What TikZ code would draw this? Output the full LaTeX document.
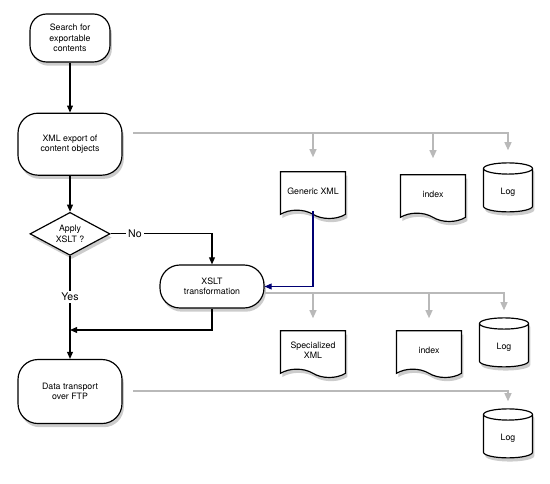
\documentclass[tikz,border=0pt]{standalone}
\usepackage{fontspec}
\setmainfont{TeX Gyre Heros}
\usetikzlibrary{arrows.meta, positioning, shapes.geometric, shapes.symbols, shadows}

\begin{document}
\begin{tikzpicture}[
    x=0.03cm, y=-0.03cm,
    >={Triangle[length=6pt, width=5pt]},
    font=\fontsize{7.5}{9}\selectfont,
    shade/.style={drop shadow={opacity=0.4, shadow xshift=0.3ex, shadow yshift=-0.6ex}},
    proc/.style={draw, line width=1pt, fill=white, rounded corners=0.6cm,
                 align=center, minimum width=3.12cm, shade},
    decision/.style={diamond, draw, line width=1pt, fill=white, align=center,
                     aspect=1.9, inner sep=0pt, minimum width=2.4cm,
                     minimum height=1.29cm, shade},
    doc/.style={tape, tape bend top=none, tape bend bottom=out and in,
                tape bend height=0.25cm, draw, line width=1pt, fill=white,
                align=center, minimum width=1.95cm, minimum height=1.4cm, shade},
    store/.style={cylinder, shape border rotate=90, aspect=0.5, draw,
                  line width=1pt, fill=white, minimum width=1.47cm,
                  minimum height=1.47cm, shade},
    flow/.style={->, line width=0.9pt},
    gline/.style={line width=1.3pt, gray!55, >={Triangle[length=7pt, width=6pt]}},
    bline/.style={->, line width=0.9pt, blue!45!black},
    lbl/.style={fill=white, inner sep=2pt, font=\fontsize{9}{10}\selectfont}
  ]
  \useasboundingbox (0,0) rectangle (550,484);

  % main column
  \node[proc, minimum width=2.4cm, minimum height=1.44cm, rounded corners=0.5cm]
    (search) at (70,38) {Search for\\exportable\\contents};
  \node[proc, minimum height=1.86cm, below=1.5cm of search] (export)
    {XML export of\\content objects};
  \node[decision, below=1.08cm of export] (apply) {Apply\\XSLT ?};
  \node[proc, minimum height=1.92cm, below=3.09cm of apply] (ftp)
    {Data transport\\over FTP};
  \node[proc, minimum height=1.29cm] (xslt) at (212,286.5) {XSLT\\transformation};

  % outputs
  \node[doc] (gxml) at (313,191) {Generic XML};
  \node[doc] (idx1) at (433,194) {index};
  \node[store] (log1) at (508,192) {Log};
  \node[doc] (sxml) at (313,350) {Specialized\\XML};
  \node[doc] (idx2) at (429,350) {index};
  \node[store] (log2) at (504,347) {Log};
  \node[store] (log3) at (508,438) {Log};

  \coordinate (join) at (70,330);
  \coordinate (b1) at (133,133);
  \coordinate (b2) at (265,293);
  \coordinate (b3) at (133,391);

  \draw[flow] (search) -- (export);
  \draw[flow] (export) -- (apply);
  \draw[flow] (apply.east) -| node[lbl, pos=0.12] {No} (xslt.north);
  \draw[flow] (apply) -- node[lbl, pos=0.4] {Yes} (ftp);
  \draw[flow] (xslt.south) |- (join);
  \draw[bline] (gxml.south) |- (xslt.east);

  \draw[gline, ->, shorten >=0.36cm] (b1) -| (log1.north);
  \draw[gline, ->, shorten >=0.42cm] (b1 -| gxml.north) -- (gxml.north);
  \draw[gline, ->, shorten >=0.48cm] (b1 -| idx1.north) -- (idx1.north);

  \draw[gline, ->, shorten >=0.21cm] (b2) -| (log2.north);
  \draw[gline, ->, shorten >=0.36cm] (b2 -| sxml.north) -- (sxml.north);
  \draw[gline, ->, shorten >=0.36cm] (b2 -| idx2.north) -- (idx2.north);

  \draw[gline, ->, shorten >=0.21cm] (b3) -| (log3.north);
\end{tikzpicture}
\end{document}
